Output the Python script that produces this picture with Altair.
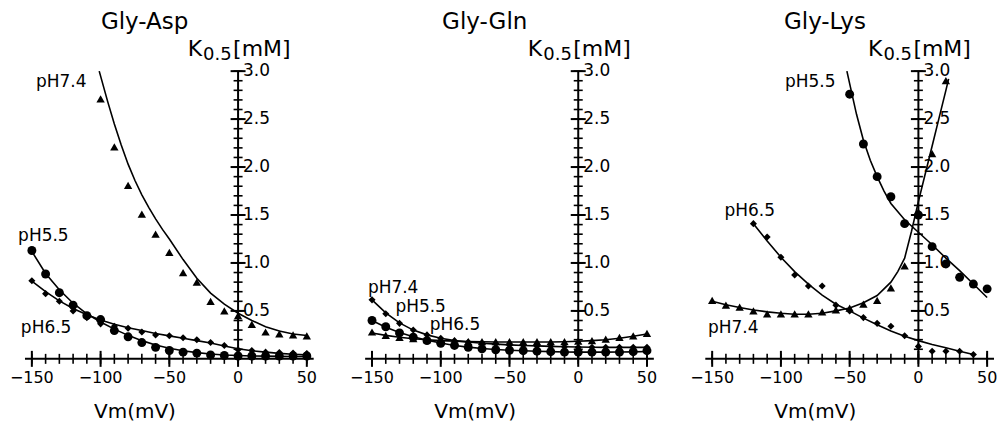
import altair as alt
import pandas as pd

# ---------------- data ----------------
V = [-150, -140, -130, -120, -110, -100, -90, -80, -70, -60, -50,
     -40, -30, -20, -10, 0, 10, 20, 30, 40, 50]

# Gly-Asp
asp_v74 = [-100, -90, -80, -70, -60, -50, -40, -30, -20, -10, 0, 10, 20, 30, 40, 50]
asp_k74 = [2.71, 2.21, 1.81, 1.51, 1.30, 1.11, 0.90, 0.80, 0.60, 0.50, 0.45, 0.36, 0.28, 0.26, 0.25, 0.24]
asp_k55 = [1.13, 0.885, 0.69, 0.56, 0.45, 0.41, 0.295, 0.23, 0.17, 0.12, 0.087, 0.07, 0.06, 0.04, 0.035, 0.03, 0.03, 0.03, 0.03, 0.03, 0.03]
asp_k65 = [0.815, 0.68, 0.60, 0.50, 0.43, 0.365, 0.34, 0.32, 0.28, 0.25, 0.24, 0.22, 0.20, 0.17, 0.14, 0.094, 0.087, 0.07, 0.065, 0.06, 0.055]
asp_fit74_v = [-101, -95, -90, -85, -80, -75, -70, -65, -60, -55, -50, -40, -30, -20, -10, 0, 10, 20, 30, 40, 50]
asp_fit74_k = [3.0, 2.69, 2.45, 2.23, 2.03, 1.86, 1.71, 1.58, 1.46, 1.35, 1.25, 1.035, 0.84, 0.685, 0.57, 0.476, 0.40, 0.335, 0.29, 0.26, 0.243]
asp_fit55_k = [1.12, 0.89, 0.72, 0.58, 0.47, 0.385, 0.31, 0.245, 0.19, 0.145, 0.11, 0.085, 0.065, 0.05, 0.04, 0.035, 0.03, 0.028, 0.026, 0.025, 0.025]
asp_fit65_k = [0.81, 0.70, 0.605, 0.525, 0.46, 0.405, 0.36, 0.325, 0.295, 0.265, 0.24, 0.215, 0.19, 0.165, 0.135, 0.105, 0.085, 0.07, 0.057, 0.048, 0.042]

# Gly-Gln
gln_k74 = [0.28, 0.245, 0.225, 0.21, 0.20, 0.19, 0.185, 0.18, 0.18, 0.18, 0.18, 0.18, 0.18, 0.18, 0.18, 0.185, 0.19, 0.205, 0.225, 0.24, 0.265]
gln_k55 = [0.40, 0.335, 0.27, 0.225, 0.19, 0.163, 0.14, 0.12, 0.105, 0.095, 0.09, 0.085, 0.08, 0.075, 0.07, 0.07, 0.07, 0.07, 0.07, 0.075, 0.085]
gln_k65 = [0.615, 0.47, 0.37, 0.30, 0.25, 0.215, 0.19, 0.175, 0.165, 0.155, 0.145, 0.14, 0.135, 0.13, 0.125, 0.12, 0.12, 0.12, 0.12, 0.12, 0.12]
gln_fit74_k = [0.27, 0.245, 0.225, 0.21, 0.20, 0.19, 0.185, 0.18, 0.178, 0.176, 0.175, 0.175, 0.175, 0.176, 0.178, 0.183, 0.19, 0.20, 0.215, 0.235, 0.26]
gln_fit55_k = [0.40, 0.33, 0.275, 0.23, 0.195, 0.165, 0.14, 0.122, 0.108, 0.097, 0.09, 0.084, 0.079, 0.075, 0.072, 0.07, 0.07, 0.07, 0.071, 0.073, 0.076]
gln_fit65_k = [0.615, 0.48, 0.375, 0.30, 0.25, 0.215, 0.19, 0.175, 0.163, 0.154, 0.146, 0.14, 0.135, 0.13, 0.126, 0.123, 0.121, 0.12, 0.12, 0.12, 0.12]

# Gly-Lys
lys_v55 = [-50, -40, -30, -20, -10, 0, 10, 20, 30, 40, 50]
lys_k55 = [2.76, 2.24, 1.90, 1.69, 1.41, 1.50, 1.17, 0.99, 0.85, 0.78, 0.73]
lys_v65 = [-120, -110, -100, -90, -80, -70, -60, -50, -40, -30, -20, -10, 0, 10, 20, 30, 40]
lys_k65 = [1.41, 1.27, 1.06, 0.875, 0.76, 0.76, 0.56, 0.50, 0.43, 0.37, 0.34, 0.24, 0.13, 0.08, 0.08, 0.08, 0.045]
lys_v74 = [-150, -140, -130, -120, -110, -100, -90, -80, -70, -60, -50, -40, -30, -20, -10, 0, 10, 20]
lys_k74 = [0.61, 0.56, 0.54, 0.50, 0.47, 0.47, 0.47, 0.47, 0.49, 0.51, 0.53, 0.57, 0.61, 0.74, 0.97, 1.53, 2.14, 2.90]
lys_fit55_v = [-52, -50, -45, -40, -35, -30, -25, -20, -10, 0, 10, 20, 30, 40, 50]
lys_fit55_k = [3.0, 2.87, 2.55, 2.28, 2.07, 1.90, 1.75, 1.62, 1.45, 1.32, 1.19, 1.05, 0.92, 0.78, 0.64]
lys_fit65_v = [-120, -110, -100, -90, -80, -70, -60, -50, -40, -30, -20, -10, 0, 10, 20, 30, 40]
lys_fit65_k = [1.41, 1.23, 1.06, 0.91, 0.78, 0.665, 0.57, 0.50, 0.425, 0.355, 0.29, 0.235, 0.19, 0.15, 0.115, 0.08, 0.045]
lys_fit74_v = [-150, -140, -130, -120, -110, -100, -90, -80, -70, -60, -50, -40, -30, -20, -15, -10, -5, 0, 5, 10, 15, 20, 22]
lys_fit74_k = [0.60, 0.565, 0.535, 0.51, 0.49, 0.475, 0.465, 0.465, 0.475, 0.50, 0.53, 0.585, 0.66, 0.80, 0.91, 1.05, 1.33, 1.64, 1.93, 2.22, 2.51, 2.80, 2.92]

# curve labels (text, anchor voltage, anchor K)
asp_labels = ["pH7.4", "pH5.5", "pH6.5"]
asp_label_v = [-147, -160, -158]
asp_label_k = [2.83, 1.23, 0.27]
gln_labels = ["pH7.4", "pH5.5", "pH6.5"]
gln_label_v = [-153, -133, -108]
gln_label_k = [0.69, 0.49, 0.30]
lys_labels = ["pH5.5", "pH6.5", "pH7.4"]
lys_label_v = [-97, -141, -153]
lys_label_k = [2.83, 1.49, 0.27]

titles = ["Gly-Asp", "Gly-Gln", "Gly-Lys"]

# axis ticks
x_minor = list(range(-150, 51, 10))
x_major = [-150, -100, -50, 0, 50]
y_minor = [round(0.1 * i, 1) for i in range(1, 31)]
y_major = [0.5, 1.0, 1.5, 2.0, 2.5, 3.0]
X_EXTENT = [-155, 55]
Y_EXTENT = [0, 3]

# ---------------- chart ----------------
FONT = "DejaVu Sans"
XS = alt.Scale(domain=X_EXTENT, nice=False, zero=False)
YS = alt.Scale(domain=Y_EXTENT, nice=False, zero=False)


def X(f):
    return alt.X(f, type="quantitative", scale=XS, axis=None)


def Y(f):
    return alt.Y(f, type="quantitative", scale=YS, axis=None)


def panel(title, series, fits, labels):
    layers = []
    # axis lines
    axes_df = pd.DataFrame({"x1": [X_EXTENT[0], 0], "x2": [X_EXTENT[1], 0],
                            "y1": [0, Y_EXTENT[0]], "y2": [0, Y_EXTENT[1]]})
    layers.append(alt.Chart(axes_df).mark_rule(color="black", strokeWidth=2).encode(
        x=X("x1"), x2="x2", y=Y("y1"), y2="y2"))
    # x ticks
    xmin_df = pd.DataFrame({"v": x_minor, "k": [0] * len(x_minor)})
    xmaj_df = pd.DataFrame({"v": x_major, "k": [0] * len(x_major)})
    layers.append(alt.Chart(xmin_df).mark_tick(orient="vertical", size=10, thickness=1.6,
                                               color="black", opacity=1).encode(x=X("v"), y=Y("k")))
    layers.append(alt.Chart(xmaj_df).mark_tick(orient="vertical", size=16, thickness=2,
                                               color="black", opacity=1).encode(x=X("v"), y=Y("k")))
    layers.append(alt.Chart(xmaj_df).mark_text(baseline="top", align="center", dy=11,
                                               fontSize=16, font=FONT, color="black").encode(
        x=X("v"), y=Y("k"), text=alt.Text("v:Q", format="d")))
    # y ticks
    ymin_df = pd.DataFrame({"v": [0] * len(y_minor), "k": y_minor})
    ymaj_df = pd.DataFrame({"v": [0] * len(y_major), "k": y_major})
    layers.append(alt.Chart(ymin_df).mark_tick(orient="horizontal", size=9, thickness=1.6,
                                               color="black", opacity=1).encode(x=X("v"), y=Y("k")))
    layers.append(alt.Chart(ymaj_df).mark_tick(orient="horizontal", size=15, thickness=2,
                                               color="black", opacity=1).encode(x=X("v"), y=Y("k")))
    layers.append(alt.Chart(ymaj_df).mark_text(baseline="middle", align="left", dx=5,
                                               fontSize=17, font=FONT, color="black").encode(
        x=X("v"), y=Y("k"), text=alt.Text("k:Q", format=".1f")))
    # axis titles
    top_df = pd.DataFrame({"v": [0], "k": [Y_EXTENT[1]]})
    layers.append(alt.Chart(top_df).mark_text(align="right", baseline="alphabetic", dx=-36, dy=-15,
                                              fontSize=22, font=FONT, color="black", text="K").encode(
        x=X("v"), y=Y("k")))
    layers.append(alt.Chart(top_df).mark_text(align="left", baseline="alphabetic", dx=-35, dy=-11,
                                              fontSize=18, font=FONT, color="black", text="0.5").encode(
        x=X("v"), y=Y("k")))
    layers.append(alt.Chart(top_df).mark_text(align="left", baseline="alphabetic", dx=-5, dy=-15,
                                              fontSize=22, font=FONT, color="black", text="[mM]").encode(
        x=X("v"), y=Y("k")))
    ttl_df = pd.DataFrame({"v": [-68], "k": [Y_EXTENT[1]], "t": [title]})
    layers.append(alt.Chart(ttl_df).mark_text(align="center", baseline="alphabetic", dy=-42,
                                              fontSize=23, font=FONT, color="black").encode(
        x=X("v"), y=Y("k"), text="t:N"))
    vm_df = pd.DataFrame({"v": [-75], "k": [Y_EXTENT[0]], "t": ["Vm(mV)"]})
    layers.append(alt.Chart(vm_df).mark_text(align="center", baseline="alphabetic", dy=59,
                                             fontSize=20, font=FONT, color="black").encode(
        x=X("v"), y=Y("k"), text="t:N"))
    # fitted curves
    for fv, fk in fits:
        df = pd.DataFrame({"v": fv, "k": fk})
        layers.append(alt.Chart(df).mark_line(color="black", strokeWidth=1.6).encode(
            x=X("v"), y=Y("k"), order="v:Q"))
    # data points
    for sv, sk, shape, size in series:
        df = pd.DataFrame({"v": sv, "k": sk})
        layers.append(alt.Chart(df).mark_point(shape=shape, size=size, filled=True,
                                               color="black", opacity=1).encode(
            x=X("v"), y=Y("k")))
    # curve labels
    txt, lv, lk = labels
    ldf = pd.DataFrame({"v": lv, "k": lk, "t": txt})
    layers.append(alt.Chart(ldf).mark_text(align="left", baseline="alphabetic", fontSize=17,
                                           font=FONT, color="black").encode(
        x=X("v"), y=Y("k"), text="t:N"))
    return alt.layer(*layers).properties(width=289, height=288)


CIRCLE, DIAMOND, TRI = "circle", "diamond", "triangle-up"

p1 = panel(titles[0],
           [(asp_v74, asp_k74, TRI, 70), (V, asp_k55, CIRCLE, 80), (V, asp_k65, DIAMOND, 50)],
           [(asp_fit74_v, asp_fit74_k), (V, asp_fit55_k), (V, asp_fit65_k)],
           (asp_labels, asp_label_v, asp_label_k))
p2 = panel(titles[1],
           [(V, gln_k74, TRI, 70), (V, gln_k55, CIRCLE, 80), (V, gln_k65, DIAMOND, 50)],
           [(V, gln_fit74_k), (V, gln_fit55_k), (V, gln_fit65_k)],
           (gln_labels, gln_label_v, gln_label_k))
p3 = panel(titles[2],
           [(lys_v74, lys_k74, TRI, 70), (lys_v55, lys_k55, CIRCLE, 80), (lys_v65, lys_k65, DIAMOND, 50)],
           [(lys_fit74_v, lys_fit74_k), (lys_fit55_v, lys_fit55_k), (lys_fit65_v, lys_fit65_k)],
           (lys_labels, lys_label_v, lys_label_k))

chart = alt.hconcat(p1, p2, p3, spacing=51.5, bounds="flush").configure_view(
    stroke=None).properties(background="white", padding={"left": 1, "top": 3, "right": 0, "bottom": 0})

chart.save("out.html", embed_options={"renderer": "svg", "actions": False})
